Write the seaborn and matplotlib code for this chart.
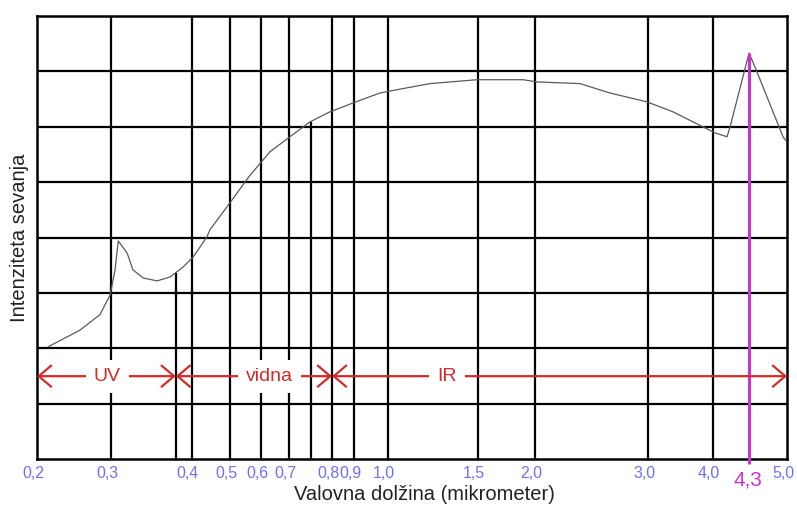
import numpy as np
import pandas as pd
import matplotlib
matplotlib.use("Agg")
import matplotlib.pyplot as plt
import matplotlib.transforms as mtransforms
from matplotlib.patches import FancyArrowPatch
import seaborn as sns

# The wavelength axis in the original drawing is spaced by hand (not log),
# so the scale is defined by the tick wavelengths and their spacing.
tick_wl = [0.2, 0.3, 0.4, 0.5, 0.6, 0.7, 0.8, 0.9, 1.0, 1.5, 2.0, 3.0, 4.0, 4.3, 5.0]
tick_pos = [0, 74, 155, 193, 224, 252, 295, 317, 351, 441, 498, 611, 676, 712, 750]
tick_labels = ['0,2', '0,3', '0,4', '0,5', '0,6', '0,7', '0,8', '0,9', '1,0',
               '1,5', '2,0', '3,0', '4,0', '4,3', '5,0']
grid_wl = [0.3, 0.4, 0.5, 0.6, 0.7, 0.8, 0.9, 1.0, 1.5, 2.0, 3.0, 4.0]
grid_y = [1, 2, 3, 4, 5, 6, 7]

# radiation intensity curve
curve_wl = [0.215, 0.258, 0.285, 0.299, 0.305, 0.309, 0.320, 0.327, 0.340, 0.357,
            0.373, 0.389, 0.403, 0.439, 0.447, 0.5, 0.561, 0.632, 0.702, 0.749,
            0.795, 0.895, 0.976, 1.05, 1.233, 1.494, 1.895, 2.018, 2.398, 2.664,
            2.99, 3.185, 3.385, 3.69, 4.017, 4.117, 4.142, 4.3, 4.41, 4.926, 4.98]
curve_int = [2.03, 2.33, 2.61, 2.97, 3.42, 3.94, 3.72, 3.42, 3.27, 3.22,
             3.29, 3.47, 3.65, 4.01, 4.14, 4.63, 5.10, 5.55, 5.82, 6.09,
             6.27, 6.43, 6.61, 6.67, 6.78, 6.85, 6.85, 6.81, 6.78, 6.61,
             6.45, 6.36, 6.27, 6.09, 5.89, 5.82, 6.00, 7.33, 7.08, 5.82, 5.75]

region_edges = [0.2, 0.38, 0.8, 5.0]
region_names = ['UV', 'vidna', 'IR']
region_label_wl = [0.295, 0.63, 1.33]
region_row = 1.5
edge_lines = [0.38, 0.75]
peak_wl = 4.3

red = '#d42a2a'
tick_blue = '#7070f5'
magenta = '#cc33cc'


def fwd(x):
    return np.interp(x, tick_wl, tick_pos)


def inv(p):
    return np.interp(p, tick_pos, tick_wl)


sns.set_style('white')
plt.rcParams['font.family'] = ['Liberation Sans', 'DejaVu Sans']

fig = plt.figure(figsize=(7.97, 5.11), dpi=100)
ax = fig.add_axes([0.0464, 0.1012, 0.9411, 0.8675])
ax.set_xscale('function', functions=(fwd, inv))
ax.set_xlim(0.2, 5.0)
ax.set_ylim(0, 8)

# grid
ax.vlines(grid_wl, 0, 8, color='black', lw=1.6, zorder=1)
ax.hlines(grid_y, 0.2, 5.0, color='black', lw=1.6, zorder=1)
for s in ax.spines.values():
    s.set_color('black')
    s.set_linewidth(1.8)

df = pd.DataFrame({'wl': curve_wl, 'intensity': curve_int})
sns.lineplot(data=df, x='wl', y='intensity', ax=ax, color='#5a5a5a', lw=0.9,
             sort=False, zorder=3)

# region borders dropping from the curve
for w in edge_lines:
    ax.vlines(w, 0, np.interp(w, curve_wl, curve_int), color='black', lw=1.6, zorder=2)

# CO2 peak marker
ax.vlines(peak_wl, -0.08, np.interp(peak_wl, curve_wl, curve_int), color=magenta,
          lw=2.2, zorder=4, clip_on=False)

# region arrows and names
for a, b in zip(region_edges[:-1], region_edges[1:]):
    arr = FancyArrowPatch((a, region_row), (b, region_row),
                          arrowstyle='<->,head_length=0.45,head_width=0.38',
                          mutation_scale=20, color=red, lw=1.6,
                          shrinkA=0, shrinkB=0, zorder=5, clip_on=False)
    ax.add_patch(arr)
for name, w in zip(region_names, region_label_wl):
    ax.text(w, region_row, name, color=red, fontsize=14, ha='center', va='center',
            zorder=6, bbox=dict(boxstyle='square,pad=0.42', fc='white', ec='none'))

ax.set_yticks(grid_y)
ax.set_yticklabels([])
ax.set_xticks(tick_wl)
ax.set_xticklabels(tick_labels)
ax.tick_params(axis='both', length=0)
ax.tick_params(axis='x', pad=5, labelsize=11.5, labelcolor=tick_blue)
ax.minorticks_off()

shift = mtransforms.ScaledTranslation(-4 / 100, 0, fig.dpi_scale_trans)
for lab in ax.get_xticklabels():
    lab.set_transform(lab.get_transform() + shift)
    if lab.get_text() == '4,3':
        lab.set_color(magenta)
        lab.set_fontsize(15)
        lab.set_transform(lab.get_transform() +
                          mtransforms.ScaledTranslation(3 / 100, -4 / 100, fig.dpi_scale_trans))

ax.set_xlabel('Valovna dolžina (mikrometer)', fontsize=14.5, color='#222222')
ax.xaxis.set_label_coords(0.517, -0.058)
ax.set_ylabel('Intenziteta sevanja', fontsize=14.5, color='#222222')
ax.yaxis.set_label_coords(-0.01, 0.5)

fig.savefig('out.png', dpi=100, facecolor='white')
